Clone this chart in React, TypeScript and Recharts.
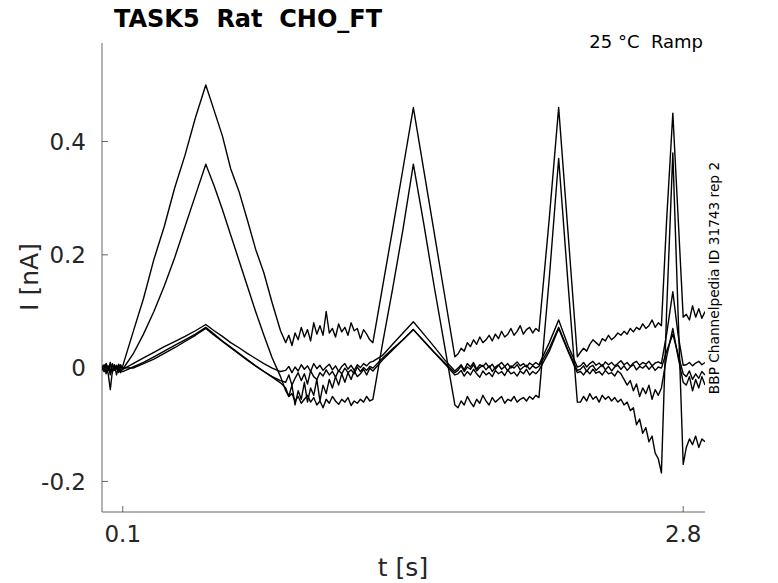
import { LineChart, Line, XAxis, YAxis } from "recharts"

// sample times [s], shared by all sweeps
const timeS = [
  0, 0.01, 0.02, 0.03, 0.04, 0.05, 0.06, 0.07, 0.08, 0.09, 0.1,
  0.15, 0.2, 0.25, 0.3, 0.35, 0.4, 0.45, 0.5,
  0.54, 0.58, 0.62, 0.66, 0.7, 0.74, 0.78, 0.82, 0.86,
  0.885, 0.9, 0.915, 0.93, 0.945, 0.96, 0.975, 0.99, 1.005, 1.02, 1.035, 1.05, 1.065, 1.08, 1.095,
  1.11, 1.125, 1.14, 1.155, 1.17, 1.185, 1.2, 1.215, 1.23, 1.245, 1.26, 1.275, 1.29, 1.305,
  1.35, 1.4, 1.45, 1.5, 1.55, 1.6, 1.65, 1.7,
  1.715, 1.73, 1.745, 1.76, 1.775, 1.79, 1.805, 1.82, 1.835, 1.85, 1.865, 1.88, 1.895, 1.91,
  1.925, 1.94, 1.955, 1.97, 1.985, 2.0, 2.015, 2.03, 2.045, 2.06, 2.075, 2.09, 2.105,
  2.155, 2.2, 2.245, 2.29,
  2.305, 2.32, 2.335, 2.35, 2.365, 2.38, 2.395, 2.41, 2.425, 2.44, 2.455, 2.47, 2.485, 2.5,
  2.515, 2.53, 2.545, 2.56, 2.575, 2.59, 2.605, 2.62, 2.635, 2.65, 2.665, 2.68, 2.695,
  2.72, 2.75, 2.775, 2.8,
  2.815, 2.83, 2.845, 2.86, 2.875, 2.89, 2.905,
]

// currents [nA]
const sweepA = [
  0.003, -0.006, 0.008, -0.004, 0.01, -0.008, 0.005, -0.002, 0.007, 0.001, 0.004,
  0.064, 0.123, 0.192, 0.25, 0.318, 0.376, 0.442, 0.5,
  0.455, 0.41, 0.352, 0.312, 0.262, 0.21, 0.168, 0.115, 0.066,
  0.045, 0.058, 0.04, 0.062, 0.05, 0.072, 0.055, 0.068, 0.048, 0.08, 0.06, 0.075, 0.058, 0.1, 0.062,
  0.07, 0.055, 0.078, 0.064, 0.072, 0.058, 0.08, 0.066, 0.07, 0.052, 0.068, 0.06, 0.05, 0.045,
  0.14, 0.245, 0.352, 0.46, 0.35, 0.24, 0.13, 0.02,
  0.025, 0.035, 0.03, 0.045, 0.038, 0.05, 0.042, 0.055, 0.045, 0.05, 0.058, 0.048, 0.06, 0.052,
  0.065, 0.055, 0.06, 0.07, 0.058, 0.065, 0.075, 0.06, 0.068, 0.072, 0.062, 0.07, 0.065,
  0.265, 0.46, 0.24, 0.02,
  0.028, 0.035, 0.03, 0.042, 0.05, 0.045, 0.04, 0.052, 0.048, 0.058, 0.05, 0.055, 0.062, 0.058,
  0.065, 0.06, 0.07, 0.064, 0.072, 0.068, 0.078, 0.07, 0.075, 0.085, 0.072, 0.08, 0.075,
  0.26, 0.45, 0.27, 0.09,
  0.095, 0.085, 0.11, 0.09, 0.105, 0.088, 0.1,
]

const sweepB = [
  -0.004, 0.006, -0.01, 0.004, -0.006, 0.008, -0.002, 0.005, -0.008, 0.003, -0.002,
  0.025, 0.06, 0.1, 0.145, 0.195, 0.25, 0.305, 0.36,
  0.322, 0.28, 0.235, 0.19, 0.145, 0.1, 0.058, 0.018, -0.015,
  -0.04, -0.05, -0.045, -0.058, -0.05, -0.062, -0.055, -0.048, -0.06, -0.052, -0.065, -0.058, -0.07, -0.055, -0.062,
  -0.05, -0.058, -0.064, -0.055, -0.06, -0.052, -0.066, -0.058, -0.062, -0.055, -0.06, -0.05, -0.058, -0.055,
  0.04, 0.14, 0.245, 0.36, 0.255, 0.145, 0.04, -0.065,
  -0.07, -0.058, -0.065, -0.05, -0.06, -0.068, -0.055, -0.062, -0.048, -0.058, -0.065, -0.052, -0.06, -0.055,
  -0.05, -0.062, -0.055, -0.058, -0.05, -0.06, -0.055, -0.052, -0.058, -0.05, -0.055, -0.048, -0.052,
  0.16, 0.37, 0.15, -0.06,
  -0.06, -0.05, -0.058, -0.045, -0.055, -0.05, -0.06, -0.048, -0.055, -0.05, -0.058, -0.052, -0.06, -0.055,
  -0.065, -0.06, -0.075, -0.07, -0.1, -0.09, -0.115, -0.105, -0.13, -0.12, -0.15, -0.16, -0.185,
  0.1, 0.38, 0.1, -0.17,
  -0.14, -0.125, -0.135, -0.12, -0.14, -0.125, -0.13,
]

const sweepC = [
  0.005, -0.004, 0.008, -0.002, 0.006, -0.006, 0.004, 0.0, -0.005, 0.006, -0.002,
  0.008, 0.018, 0.028, 0.038, 0.047, 0.056, 0.066, 0.077,
  0.066, 0.056, 0.045, 0.036, 0.026, 0.017, 0.008, 0.0, -0.006,
  -0.004, 0.003, -0.008, 0.002, -0.005, 0.006, -0.002, 0.004, -0.006, 0.008, -0.001, 0.005, -0.004, 0.002, 0.007,
  -0.003, 0.004, -0.006, 0.003, 0.008, -0.002, 0.005, -0.004, 0.006, 0.001, 0.008, 0.004, 0.01, 0.012,
  0.022, 0.042, 0.062, 0.082, 0.06, 0.038, 0.015, -0.005,
  0.0, 0.006, -0.003, 0.008, 0.002, 0.01, -0.002, 0.006, 0.003, 0.009, 0.001, 0.007, -0.002, 0.005,
  0.01, 0.003, 0.008, 0.0, 0.006, 0.011, 0.004, 0.008, 0.002, 0.009, 0.005, 0.01, 0.006,
  0.045, 0.085, 0.04, 0.002,
  0.004, 0.01, 0.002, 0.008, 0.012, 0.005, 0.009, 0.003, 0.011, 0.006, 0.01, 0.004, 0.008, 0.013,
  0.006, 0.01, 0.003, 0.009, 0.012, 0.005, 0.01, 0.007, 0.012, 0.004, 0.009, 0.011, 0.008,
  0.06, 0.135, 0.06, 0.005,
  0.006, 0.01, 0.004, 0.009, 0.012, 0.006, 0.01,
]

const sweepD = [
  0.002, -0.006, 0.004, -0.01, -0.038, -0.005, 0.006, -0.012, 0.003, -0.004, -0.006,
  0.002, 0.01, 0.02, 0.03, 0.04, 0.05, 0.06, 0.072,
  0.06, 0.048, 0.037, 0.026, 0.015, 0.004, -0.006, -0.016, -0.026,
  -0.035, -0.05, -0.03, -0.065, -0.04, -0.055, -0.025, -0.06, -0.035, -0.048, -0.02, -0.058, -0.03, -0.045, -0.02,
  -0.035, -0.015, -0.03, -0.01, -0.025, -0.008, -0.02, -0.005, -0.015, -0.01, -0.002, -0.012, 0.0, -0.005,
  0.014, 0.032, 0.05, 0.068, 0.048, 0.028, 0.008, -0.012,
  -0.01, -0.004, -0.014, -0.006, -0.012, -0.002, -0.01, -0.016, -0.005, -0.012, -0.008, -0.015, -0.004, -0.01,
  -0.006, -0.013, -0.003, -0.01, -0.007, -0.014, -0.005, -0.01, -0.002, -0.012, -0.006, -0.01, -0.004,
  0.03, 0.07, 0.03, -0.008,
  -0.006, -0.012, -0.004, -0.01, -0.002, -0.009, -0.006, -0.012, -0.004, -0.01, -0.008, -0.014, -0.005, -0.01,
  -0.02, -0.03, -0.022, -0.04, -0.028, -0.05, -0.035, -0.045, -0.03, -0.055, -0.038, -0.048, -0.035,
  0.02, 0.07, 0.02, -0.025,
  -0.03, -0.015, -0.04, -0.02, -0.035, -0.015, -0.03,
]

const sweepE = [
  -0.003, 0.005, -0.007, 0.002, -0.012, 0.006, -0.004, 0.003, -0.002, -0.008, 0.001,
  0.0, 0.008, 0.016, 0.026, 0.036, 0.047, 0.058, 0.07,
  0.058, 0.047, 0.036, 0.025, 0.014, 0.004, -0.006, -0.015, -0.022,
  -0.025, -0.012, -0.03, -0.018, -0.008, -0.022, -0.01, -0.028, -0.005, -0.015, -0.02, -0.008, -0.014, -0.003, -0.012,
  -0.006, -0.016, -0.004, -0.01, 0.0, -0.008, -0.003, -0.01, 0.002, -0.006, 0.001, -0.004, 0.003, 0.0,
  0.017, 0.034, 0.05, 0.068, 0.048, 0.028, 0.01, -0.008,
  -0.004, 0.004, -0.006, 0.002, -0.002, 0.006, -0.005, 0.001, 0.005, -0.003, 0.004, -0.006, 0.002, 0.006,
  -0.002, 0.003, -0.005, 0.004, 0.0, 0.006, -0.003, 0.002, 0.005, -0.002, 0.004, 0.0, 0.003,
  0.035, 0.072, 0.032, -0.004,
  -0.002, 0.004, -0.006, 0.002, 0.005, -0.004, 0.001, 0.006, -0.003, 0.003, -0.005, 0.002, 0.005, -0.002,
  0.004, -0.004, 0.002, 0.006, -0.003, 0.003, 0.0, 0.005, -0.002, 0.004, -0.004, 0.002, 0.0,
  0.03, 0.06, 0.025, -0.01,
  -0.015, -0.005, -0.02, -0.01, -0.018, -0.006, -0.012,
]

const xTicks = [0.1, 2.8]
const yTicks = [-0.2, 0, 0.2, 0.4]

const sweeps = [sweepA, sweepB, sweepC, sweepD, sweepE]

const rows = timeS.map((t, i) => {
  const row: Record<string, number> = { t }
  sweeps.forEach((s, k) => {
    row["s" + k] = s[i]
  })
  return row
})

const INK = "#262626"
const FONT = "DejaVu Sans"

function YTick({ x, y, payload }: any) {
  return (
    <g>
      <line x1={x} x2={x + 6} y1={y} y2={y} stroke={INK} strokeWidth={0.7} />
      <text x={x - 16} y={y} dy="0.36em" textAnchor="end" fontSize={23} fill={INK} fontFamily={FONT}>
        {payload.value}
      </text>
    </g>
  )
}

function XTick({ x, y, payload }: any) {
  return (
    <g>
      <line x1={x} x2={x} y1={y} y2={y - 6} stroke={INK} strokeWidth={0.7} />
      <text x={x} y={y + 30} textAnchor="middle" fontSize={23} fill={INK} fontFamily={FONT}>
        {payload.value}
      </text>
    </g>
  )
}

export default function App() {
  return (
    <div style={{ position: "absolute", left: 0, top: 0, width: 778, height: 583, background: "#fff" }}>
      <LineChart width={778} height={583} data={rows} margin={{ top: 43, right: 73, bottom: 41, left: 42 }}>
        <XAxis
          type="number"
          dataKey="t"
          domain={[0, 2.905]}
          ticks={xTicks}
          interval={0}
          allowDataOverflow
          height={30}
          tickSize={0}
          tickMargin={0}
          tickLine={false}
          axisLine={{ stroke: INK, strokeWidth: 0.7 }}
          tick={<XTick />}
        />
        <YAxis
          type="number"
          domain={[-0.254, 0.574]}
          ticks={yTicks}
          interval={0}
          allowDataOverflow
          width={60}
          tickSize={0}
          tickMargin={0}
          tickLine={false}
          axisLine={{ stroke: INK, strokeWidth: 0.7 }}
          tick={<YTick />}
        />
        {sweeps.map((_, k) => (
          <Line
            key={k}
            dataKey={"s" + k}
            type="linear"
            stroke="#000"
            strokeWidth={1.4}
            strokeLinejoin="round"
            dot={false}
            activeDot={false}
            isAnimationActive={false}
          />
        ))}
      </LineChart>
      <svg
        width={778}
        height={583}
        style={{ position: "absolute", left: 0, top: 0, pointerEvents: "none", whiteSpace: "pre" }}
        fontFamily={FONT}
      >
        <text x={114} y={27} fontSize={24} fontWeight="bold" fill="#000" xmlSpace="preserve">
          {"TASK5  Rat  CHO_FT"}
        </text>
        <text x={703} y={48} fontSize={18} textAnchor="end" fill="#000" xmlSpace="preserve">
          {"25 °C  Ramp"}
        </text>
        <text x={719} y={278} fontSize={13.7} textAnchor="middle" fill="#000" transform="rotate(-90 719 278)">
          BBP Channelpedia ID 31743 rep 2
        </text>
        <text x={38} y={277} fontSize={25} textAnchor="middle" fill={INK} transform="rotate(-90 38 277)">
          I [nA]
        </text>
        <text x={403} y={576} fontSize={25} textAnchor="middle" fill={INK}>
          t [s]
        </text>
      </svg>
    </div>
  )
}
